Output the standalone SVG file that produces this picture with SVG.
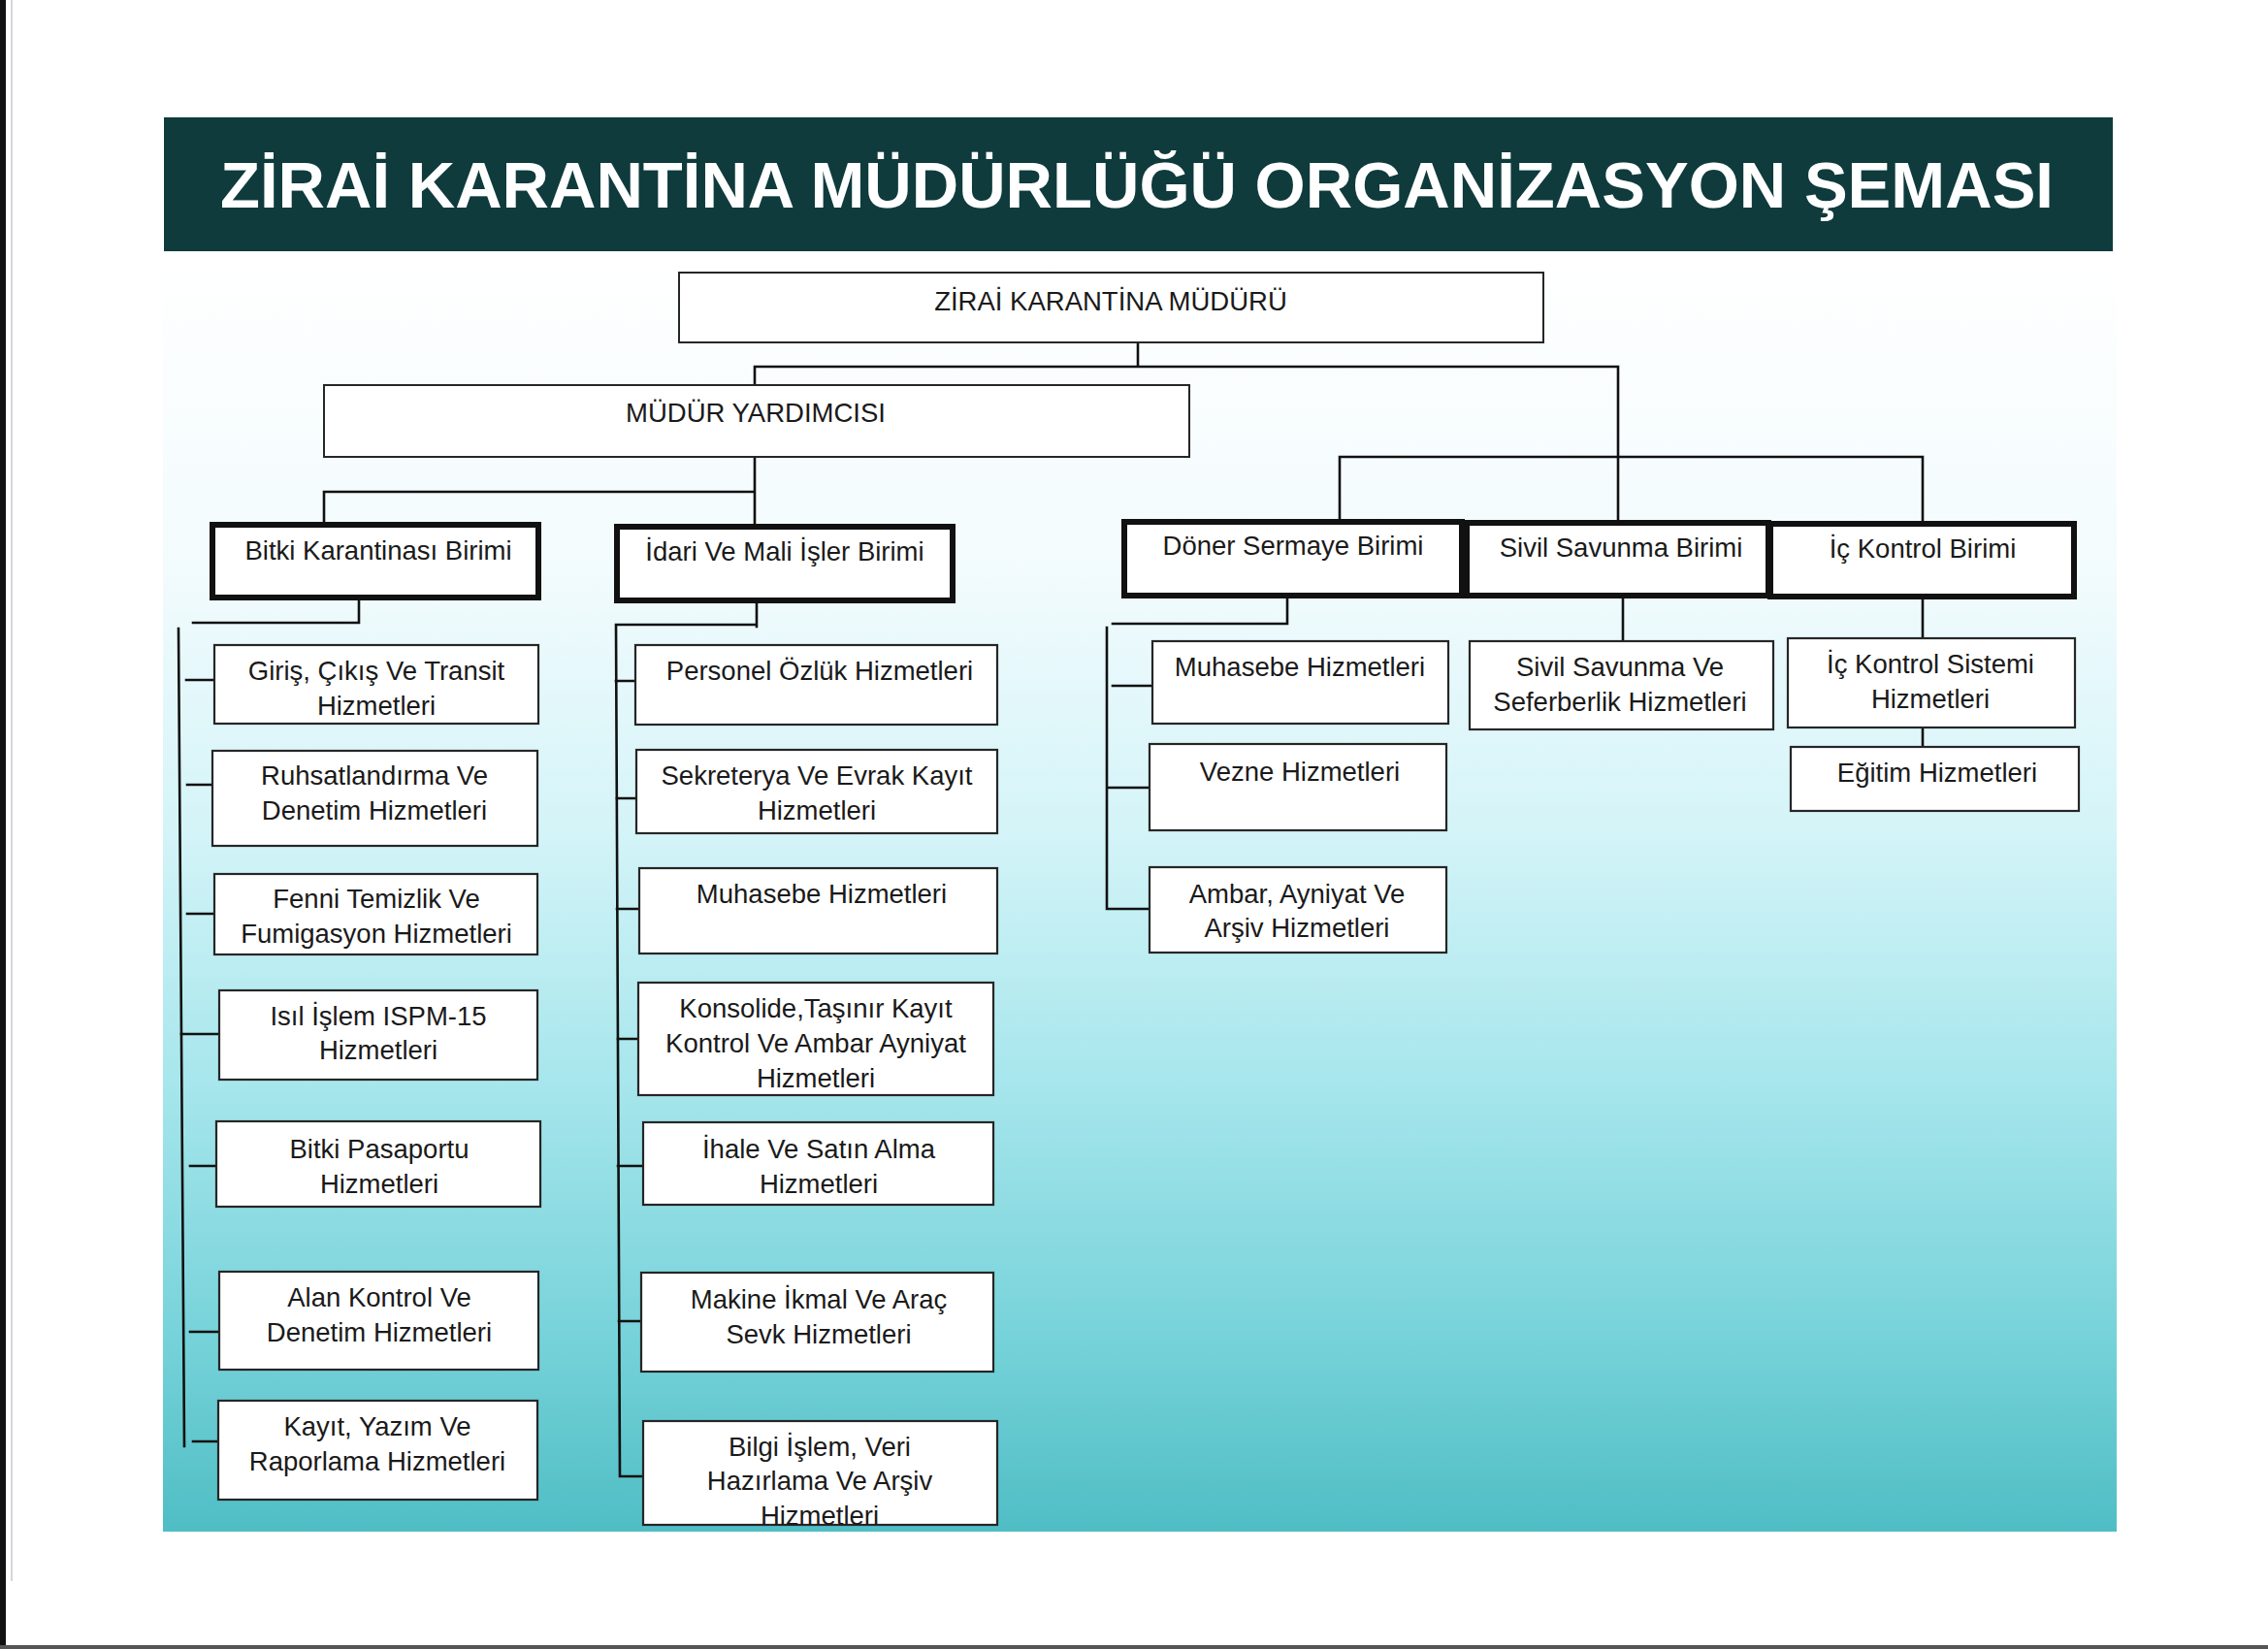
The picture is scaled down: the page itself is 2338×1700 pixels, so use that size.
<svg xmlns="http://www.w3.org/2000/svg" width="2338" height="1700" viewBox="0 0 2338 1700">
<defs>
<linearGradient id="panelGrad" gradientUnits="userSpaceOnUse" x1="0" y1="262" x2="0" y2="1580">
<stop offset="0" stop-color="#ffffff"/>
<stop offset="0.25" stop-color="#f2fbfd"/>
<stop offset="0.45" stop-color="#d4f4f8"/>
<stop offset="0.65" stop-color="#a6e6ec"/>
<stop offset="0.85" stop-color="#76d2d9"/>
<stop offset="1" stop-color="#4fbdc4"/>
</linearGradient>
<style>
.box{fill:#ffffff;stroke:#262626;stroke-width:2.2}
.unit{fill:#ffffff;stroke:#111111;stroke-width:6}
.top{fill:#ffffff;stroke:#262626;stroke-width:2}
.t{font-family:"Liberation Sans",Arial,sans-serif;font-size:27.5px;fill:#1a1a1a;text-anchor:middle}
.ttl{font-family:"Liberation Sans",Arial,sans-serif;font-size:66px;font-weight:bold;fill:#ffffff;text-anchor:middle}
.c{fill:none;stroke:#111111;stroke-width:2.6;stroke-linecap:square}
</style>
</defs>
<rect x="0" y="0" width="2338" height="1700" fill="#ffffff"/>
<rect x="0" y="0" width="6" height="1700" fill="#111111"/>
<line x1="12" y1="0" x2="12" y2="1630" stroke="#c8c8d0" stroke-width="1.5"/>
<rect x="0" y="1696" width="2338" height="4" fill="#555555"/>
<rect x="168" y="258" width="2014" height="1321" fill="url(#panelGrad)"/>
<g id="title">
<rect x="169" y="121" width="2009" height="138" fill="#0f3b3d"/>
<text class="ttl" x="1172" y="214" textLength="1890" lengthAdjust="spacingAndGlyphs">ZİRAİ KARANTİNA MÜDÜRLÜĞÜ ORGANİZASYON ŞEMASI</text>
</g>
<g id="connectors">
<path class="c" d="M1173 353V378M778 378H1668M778 378V397M1668 378V538M1381 471H1982M1381 471V537M1982 471V539"/>
<path class="c" d="M778 471V541M334 507H778M334 507V538"/>
<path class="c" d="M370 620V642H199M184 648L190 1491"/>
<path class="c" d="M192 701H221M193 809H219M193 942H221M187 1066H226M196 1202H223M196 1373H226M199 1486H225"/>
<path class="c" d="M780 622V646M635 644H780M635 644L639 1522H663"/>
<path class="c" d="M635 702H655M636 823H656M636 937H659M637 1071H658M637 1202H663M638 1362H661"/>
<path class="c" d="M1327 618V643H1147M1141 647V937H1185M1147 707H1188M1141 812H1185"/>
<path class="c" d="M1673 618V661M1982 618V658M1982 750V770"/>
</g>
<g id="n-mudur">
<rect class="top" x="700" y="281" width="891" height="72"/>
<text class="t" x="1145" y="320">ZİRAİ KARANTİNA MÜDÜRÜ</text>
</g>
<g id="n-yardimci">
<rect class="top" x="334" y="397" width="892" height="74"/>
<text class="t" x="779" y="435">MÜDÜR YARDIMCISI</text>
</g>
<g id="n-bitki">
<rect class="unit" x="219" y="541" width="336" height="75"/>
<text class="t" x="390" y="577">Bitki Karantinası Birimi</text>
</g>
<g id="n-idari">
<rect class="unit" x="636" y="543" width="346" height="76"/>
<text class="t" x="809" y="578">İdari Ve Mali İşler Birimi</text>
</g>
<g id="n-doner">
<rect class="unit" x="1159" y="538" width="348" height="76"/>
<text class="t" x="1333" y="572">Döner Sermaye Birimi</text>
</g>
<g id="n-sivil">
<rect class="unit" x="1512" y="539" width="311" height="75"/>
<text class="t" x="1671" y="574">Sivil Savunma Birimi</text>
</g>
<g id="n-ic">
<rect class="unit" x="1825" y="540" width="313" height="75"/>
<text class="t" x="1982" y="575">İç Kontrol Birimi</text>
</g>
<g id="n-giris">
<rect class="box" x="221" y="665" width="334" height="81"/>
<text class="t" x="388" y="701">Giriş, Çıkış Ve Transit</text>
<text class="t" x="388" y="737">Hizmetleri</text>
</g>
<g id="n-ruhsat">
<rect class="box" x="219" y="774" width="335" height="98"/>
<text class="t" x="386" y="809">Ruhsatlandırma Ve</text>
<text class="t" x="386" y="845">Denetim Hizmetleri</text>
</g>
<g id="n-fenni">
<rect class="box" x="221" y="901" width="333" height="83"/>
<text class="t" x="388" y="936">Fenni Temizlik Ve</text>
<text class="t" x="388" y="972">Fumigasyon Hizmetleri</text>
</g>
<g id="n-isil">
<rect class="box" x="226" y="1021" width="328" height="92"/>
<text class="t" x="390" y="1057">Isıl İşlem ISPM-15</text>
<text class="t" x="390" y="1092">Hizmetleri</text>
</g>
<g id="n-pasaport">
<rect class="box" x="223" y="1156" width="334" height="88"/>
<text class="t" x="391" y="1194">Bitki Pasaportu</text>
<text class="t" x="391" y="1230">Hizmetleri</text>
</g>
<g id="n-alan">
<rect class="box" x="226" y="1311" width="329" height="101"/>
<text class="t" x="391" y="1347">Alan Kontrol Ve</text>
<text class="t" x="391" y="1383">Denetim Hizmetleri</text>
</g>
<g id="n-kayit">
<rect class="box" x="225" y="1444" width="329" height="102"/>
<text class="t" x="389" y="1480">Kayıt, Yazım Ve</text>
<text class="t" x="389" y="1516">Raporlama Hizmetleri</text>
</g>
<g id="n-personel">
<rect class="box" x="655" y="665" width="373" height="82"/>
<text class="t" x="845" y="701">Personel Özlük Hizmetleri</text>
</g>
<g id="n-sekreterya">
<rect class="box" x="656" y="773" width="372" height="86"/>
<text class="t" x="842" y="809">Sekreterya Ve Evrak Kayıt</text>
<text class="t" x="842" y="845">Hizmetleri</text>
</g>
<g id="n-muhasebe1">
<rect class="box" x="659" y="895" width="369" height="88"/>
<text class="t" x="847" y="931">Muhasebe Hizmetleri</text>
</g>
<g id="n-konsolide">
<rect class="box" x="658" y="1013" width="366" height="116"/>
<text class="t" x="841" y="1049">Konsolide,Taşınır Kayıt</text>
<text class="t" x="841" y="1085">Kontrol Ve Ambar Ayniyat</text>
<text class="t" x="841" y="1121">Hizmetleri</text>
</g>
<g id="n-ihale">
<rect class="box" x="663" y="1157" width="361" height="85"/>
<text class="t" x="844" y="1194">İhale Ve Satın Alma</text>
<text class="t" x="844" y="1230">Hizmetleri</text>
</g>
<g id="n-makine">
<rect class="box" x="661" y="1312" width="363" height="102"/>
<text class="t" x="844" y="1349">Makine İkmal Ve Araç</text>
<text class="t" x="844" y="1385">Sevk Hizmetleri</text>
</g>
<g id="n-bilgi">
<rect class="box" x="663" y="1465" width="365" height="107"/>
<text class="t" x="845" y="1501">Bilgi İşlem, Veri</text>
<text class="t" x="845" y="1536">Hazırlama Ve Arşiv</text>
<text class="t" x="845" y="1572">Hizmetleri</text>
</g>
<g id="n-muhasebe2">
<rect class="box" x="1188" y="661" width="305" height="85"/>
<text class="t" x="1340" y="697">Muhasebe Hizmetleri</text>
</g>
<g id="n-vezne">
<rect class="box" x="1185" y="767" width="306" height="89"/>
<text class="t" x="1340" y="805">Vezne Hizmetleri</text>
</g>
<g id="n-ambar">
<rect class="box" x="1185" y="894" width="306" height="88"/>
<text class="t" x="1337" y="931">Ambar, Ayniyat Ve</text>
<text class="t" x="1337" y="966">Arşiv Hizmetleri</text>
</g>
<g id="n-seferberlik">
<rect class="box" x="1515" y="661" width="313" height="91"/>
<text class="t" x="1670" y="697">Sivil Savunma Ve</text>
<text class="t" x="1670" y="733">Seferberlik Hizmetleri</text>
</g>
<g id="n-icsistem">
<rect class="box" x="1843" y="658" width="296" height="92"/>
<text class="t" x="1990" y="694">İç Kontrol Sistemi</text>
<text class="t" x="1990" y="730">Hizmetleri</text>
</g>
<g id="n-egitim">
<rect class="box" x="1846" y="770" width="297" height="66"/>
<text class="t" x="1997" y="806">Eğitim Hizmetleri</text>
</g>
</svg>
